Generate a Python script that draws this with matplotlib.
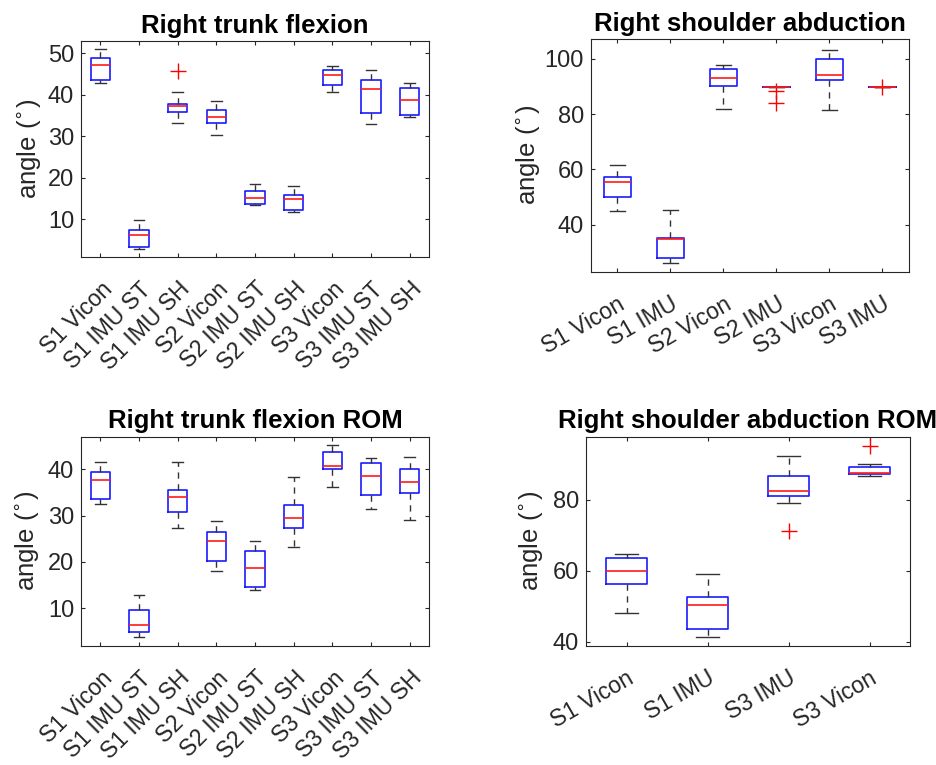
import matplotlib
matplotlib.use('Agg')
from matplotlib import pyplot as plt

plt.rcParams['font.family'] = ['Liberation Sans', 'DejaVu Sans']
plt.rcParams['mathtext.fontset'] = 'dejavusans'

# five-number summaries per box: whisker low, q1, median, q3, whisker high
trunk_labels = ['S1 Vicon', 'S1 IMU ST', 'S1 IMU SH', 'S2 Vicon', 'S2 IMU ST',
                'S2 IMU SH', 'S3 Vicon', 'S3 IMU ST', 'S3 IMU SH']
trunk_stats = [
    [42.8, 43.6, 47.3, 49.0, 51.0],
    [2.9, 3.3, 6.1, 7.3, 9.7],
    [33.1, 35.8, 37.3, 37.8, 40.6],
    [30.4, 33.3, 34.7, 36.3, 38.6],
    [13.4, 13.7, 15.2, 16.8, 18.4],
    [11.8, 12.2, 14.9, 15.9, 18.0],
    [40.7, 42.4, 44.7, 46.0, 47.0],
    [33.0, 35.5, 41.5, 43.6, 46.1],
    [34.6, 35.2, 38.7, 41.7, 42.8],
]
trunk_fliers = [[], [], [45.7], [], [], [], [], [], []]

shoulder_labels = ['S1 Vicon', 'S1 IMU', 'S2 Vicon', 'S2 IMU', 'S3 Vicon', 'S3 IMU']
shoulder_stats = [
    [44.8, 50.0, 55.3, 57.1, 61.6],
    [26.2, 27.9, 34.9, 35.3, 45.2],
    [81.9, 90.1, 93.0, 96.4, 97.7],
    [90.0, 90.0, 90.0, 90.0, 90.0],
    [81.6, 92.4, 94.3, 99.9, 103.1],
    [90.0, 90.0, 90.0, 90.0, 90.0],
]
shoulder_fliers = [[], [], [], [88.4, 83.9], [], [89.9]]

trunk_rom_labels = trunk_labels
trunk_rom_stats = [
    [32.5, 33.7, 37.8, 39.4, 41.6],
    [3.8, 4.8, 6.3, 9.6, 12.9],
    [27.3, 30.7, 34.1, 35.5, 41.7],
    [18.0, 20.2, 24.6, 26.4, 28.8],
    [13.9, 14.6, 18.6, 22.3, 24.5],
    [23.2, 27.3, 29.4, 32.3, 38.4],
    [36.3, 40.1, 40.7, 43.7, 45.3],
    [31.5, 34.4, 38.5, 41.4, 42.4],
    [29.1, 34.9, 37.2, 40.1, 42.8],
]
trunk_rom_fliers = [[] for i in range(9)]

shoulder_rom_labels = ['S1 Vicon', 'S1 IMU', 'S3 IMU', 'S3 Vicon']
shoulder_rom_stats = [
    [48.1, 56.2, 60.1, 63.7, 64.8],
    [41.4, 43.7, 50.3, 52.6, 59.2],
    [79.0, 81.1, 82.5, 86.7, 92.4],
    [86.8, 87.2, 87.5, 89.4, 90.1],
]
shoulder_rom_fliers = [[], [], [71.3], [95.3]]

GREY = '#262626'


def draw_panel(ax, labels, stats, fliers, title, ylim, yticks, rot, ylab_x):
    boxes = []
    for lab, s, f in zip(labels, stats, fliers):
        boxes.append(dict(label=lab, whislo=s[0], q1=s[1], med=s[2],
                          q3=s[3], whishi=s[4], fliers=f))
    n = len(boxes)
    ax.bxp(boxes, positions=range(1, n + 1), widths=0.5, capwidths=0.28,
           boxprops=dict(color='#1a1aff', linewidth=1.2),
           medianprops=dict(color='#ff1a1a', linewidth=1.2),
           whiskerprops=dict(color='#333333', linestyle=(0, (4.5, 4)), linewidth=1.0),
           capprops=dict(color='#333333', linewidth=1.0),
           flierprops=dict(marker='+', markeredgecolor='red', markersize=12,
                           markeredgewidth=1.0, linestyle='none'))
    ax.set_xlim(0.5, n + 0.5)
    ax.set_ylim(*ylim)
    ax.set_yticks(yticks)
    ax.set_title(title, fontsize=18.5, fontweight='bold', pad=6)
    ax.set_ylabel(r'angle ($^{\circ}$)', fontsize=18.5, color=GREY)
    ax.yaxis.set_label_coords(ylab_x, 0.5)
    ax.tick_params(direction='in', top=True, right=True, length=3,
                   width=0.8, colors=GREY, labelsize=17)
    ax.tick_params(axis='x', pad=15, labelsize=16.5)
    ax.tick_params(axis='y', pad=5)
    for lab in ax.get_xticklabels():
        lab.set_rotation(rot)
        lab.set_ha('right')
        lab.set_va('top')
        lab.set_rotation_mode('anchor')
    for sp in ax.spines.values():
        sp.set_color(GREY)
        sp.set_linewidth(0.8)


fig = plt.figure(figsize=(9.37, 7.65), dpi=100)

ax1 = fig.add_axes([0.0865, 0.6641, 0.3714, 0.2824])
ax2 = fig.add_axes([0.6307, 0.6448, 0.3394, 0.3042])
ax3 = fig.add_axes([0.0865, 0.1556, 0.3714, 0.2736])
ax4 = fig.add_axes([0.6254, 0.1562, 0.3458, 0.2729])

draw_panel(ax1, trunk_labels, trunk_stats, trunk_fliers,
           'Right trunk flexion', (0.9, 53), [10, 20, 30, 40, 50], 45, -0.11)
draw_panel(ax2, shoulder_labels, shoulder_stats, shoulder_fliers,
           'Right shoulder abduction', (23, 107.2), [40, 60, 80, 100], 30, -0.155)
draw_panel(ax3, trunk_rom_labels, trunk_rom_stats, trunk_rom_fliers,
           'Right trunk flexion ROM', (1.8, 47.1), [10, 20, 30, 40], 45, -0.115)
draw_panel(ax4, shoulder_rom_labels, shoulder_rom_stats, shoulder_rom_fliers,
           'Right shoulder abduction ROM', (39, 97.8), [40, 60, 80], 30, -0.125)

fig.savefig('out.png', dpi=100)
